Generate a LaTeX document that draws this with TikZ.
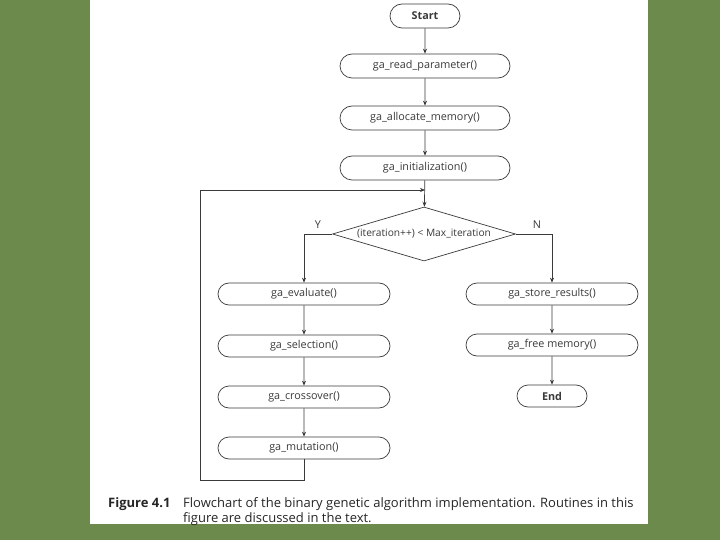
\documentclass[tikz,border=0pt]{standalone}
\usepackage{fontspec}
\setmainfont{Open Sans}
\usetikzlibrary{shapes.geometric,shapes.misc,arrows.meta}
\definecolor{bggreen}{HTML}{6B8A4C}
\definecolor{ink}{HTML}{3A3A3A}
\begin{document}
\begin{tikzpicture}[x=1pt,y=-1pt,
  proc/.style={rounded rectangle, draw=ink, line width=0.7pt, minimum width=170pt, minimum height=24pt, inner sep=0pt, font=\fontsize{10.8}{12}\selectfont, text=ink},
  term/.style={proc, minimum width=70pt, font=\fontsize{10.8}{12}\selectfont\bfseries},
  dec/.style={diamond, draw=ink, line width=0.7pt, aspect=3.3, inner sep=0pt, minimum width=183pt, minimum height=54pt, font=\fontsize{10.2}{12}\selectfont, text=ink},
  arr/.style={-{Stealth[length=5pt,width=4pt]}, draw=ink, line width=0.7pt},
  lin/.style={draw=ink, line width=0.7pt},
  lab/.style={font=\fontsize{10.8}{12}\selectfont, text=ink, inner sep=0pt},
  captext/.style={font=\fontsize{13}{15}\selectfont, text=black!85, inner sep=0pt, anchor=base west}]
\useasboundingbox (0,0) rectangle (720,540);
\fill[bggreen] (0,0) rectangle (720,540);
\fill[white] (90,0) rectangle (648,524);

\node[term] (start) at (425,16) {Start};
\node[proc] (read) at (425,66) {ga\_read\_parameter()};
\node[proc] (alloc) at (425,118) {ga\_allocate\_memory()};
\node[proc] (init) at (425,168) {ga\_initialization()};
\node[dec] (dec) at (424,234) {(iteration++) < Max\_iteration};
\node[proc, minimum width=172pt, minimum height=22pt] (eval) at (304,294) {ga\_evaluate()};
\node[proc, minimum width=172pt, minimum height=22pt] (sel) at (304,346) {ga\_selection()};
\node[proc, minimum width=172pt, minimum height=22pt] (cross) at (304,397) {ga\_crossover()};
\node[proc, minimum width=172pt, minimum height=22pt] (mut) at (304,448) {ga\_mutation()};
\node[proc, minimum width=172pt, minimum height=22pt] (store) at (552,294) {ga\_store\_results()};
\node[proc, minimum width=172pt, minimum height=22pt] (free) at (552,345) {ga\_free memory()};
\node[term, minimum height=22pt] (end) at (552,396) {End};

\node[lab] (ylab) at (318,225) {Y};
\node[lab] (nlab) at (537,225) {N};

\coordinate (j) at (425,190);
\coordinate (lb) at (304,480);
\coordinate (lbl) at (200,480);
\coordinate (ltl) at (200,190);

\draw[arr] (start) -- (read);
\draw[arr] (read) -- (alloc);
\draw[arr] (alloc) -- (init);
\draw[arr] (init) -- (dec);
\draw[lin] (mut) -- (lb) -- (lbl) -- (ltl);
\draw[arr] (ltl) -- (j);
\draw[arr] (dec.west) -| (eval.north);
\draw[arr] (dec.east) -| (store.north);
\draw[arr] (eval) -- (sel);
\draw[arr] (sel) -- (cross);
\draw[arr] (cross) -- (mut);
\draw[arr] (store) -- (free);
\draw[arr] (free) -- (end);

\node[captext, font=\fontsize{13}{15}\selectfont\bfseries] (fig) at (108,507) {Figure 4.1};
\node[captext] (c1) at (183,507) {Flowchart of the binary genetic algorithm implementation. Routines in this};
\node[captext] (c2) at (183,522) {figure are discussed in the text.};
\end{tikzpicture}
\end{document}
